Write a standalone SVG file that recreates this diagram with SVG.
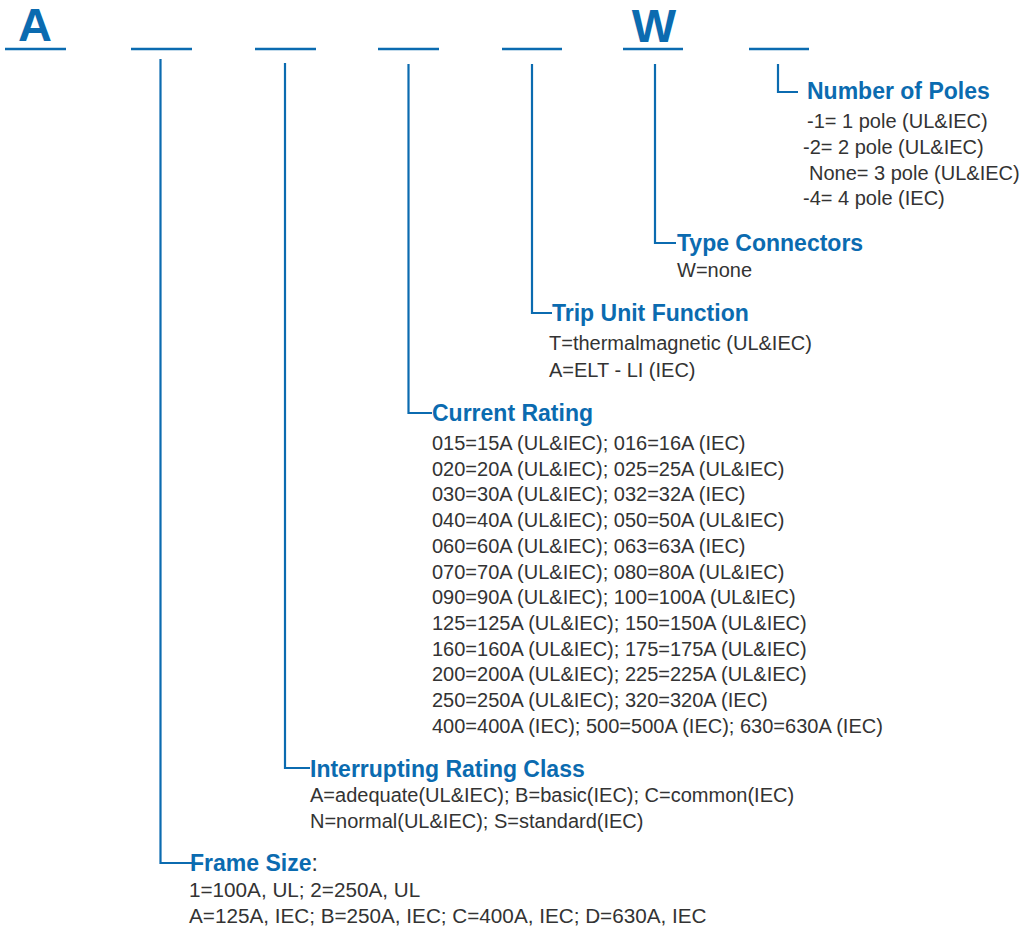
<svg xmlns="http://www.w3.org/2000/svg" width="1026" height="930" viewBox="0 0 1026 930">
<style>
.bg{fill:#ffffff}
.ul{stroke:#0b6bb0;stroke-width:2.6;fill:none}
.conn{stroke:#0b6bb0;stroke-width:2.2;fill:none}
.big{font-family:"Liberation Sans",Arial,sans-serif;font-weight:bold;font-size:47px;fill:#0b6bb0;text-anchor:middle}
.title{font-family:"Liberation Sans",Arial,sans-serif;font-weight:bold;font-size:23px;fill:#0b6bb0}
.body{font-family:"Liberation Sans",Arial,sans-serif;font-size:20px;fill:#333333}
</style>
<rect class="bg" x="0" y="0" width="1026" height="930"/>
<g id="header">
<text class="big" x="35" y="41">A</text>
<text class="big" x="654" y="42">W</text>
<line class="ul" x1="5" y1="49" x2="66" y2="49"/>
<line class="ul" x1="131" y1="49" x2="192" y2="49"/>
<line class="ul" x1="255" y1="49" x2="316" y2="49"/>
<line class="ul" x1="378" y1="49" x2="439" y2="49"/>
<line class="ul" x1="502" y1="49" x2="562" y2="49"/>
<line class="ul" x1="623" y1="49" x2="683" y2="49"/>
<line class="ul" x1="749" y1="49" x2="809" y2="49"/>
</g>
<g id="connectors">
<path class="conn" d="M160.5 59 V863 H192"/>
<path class="conn" d="M285 63 V768 H310"/>
<path class="conn" d="M408.5 64 V413 H432"/>
<path class="conn" d="M532 64 V313 H552"/>
<path class="conn" d="M655 64 V243 H676"/>
<path class="conn" d="M778 64 V92 H798"/>
</g>
<g id="number-of-poles">
<text class="title" x="807" y="99">Number of Poles</text>
<text class="body" x="807" y="128">-1= 1 pole (UL&amp;IEC)</text>
<text class="body" x="803" y="154">-2= 2 pole (UL&amp;IEC)</text>
<text class="body" x="809" y="180">None= 3 pole (UL&amp;IEC)</text>
<text class="body" x="803" y="205">-4= 4 pole (IEC)</text>
</g>
<g id="type-connectors">
<text class="title" x="677" y="250.5">Type Connectors</text>
<text class="body" x="677" y="277">W=none</text>
</g>
<g id="trip-unit-function">
<text class="title" x="552" y="320.5">Trip Unit Function</text>
<text class="body" x="549" y="350">T=thermalmagnetic (UL&amp;IEC)</text>
<text class="body" x="549" y="377">A=ELT - LI (IEC)</text>
</g>
<g id="current-rating">
<text class="title" x="432" y="420.5">Current Rating</text>
<text class="body" x="432" y="450">015=15A (UL&amp;IEC); 016=16A (IEC)</text>
<text class="body" x="432" y="475.7">020=20A (UL&amp;IEC); 025=25A (UL&amp;IEC)</text>
<text class="body" x="432" y="501.4">030=30A (UL&amp;IEC); 032=32A (IEC)</text>
<text class="body" x="432" y="527.1">040=40A (UL&amp;IEC); 050=50A (UL&amp;IEC)</text>
<text class="body" x="432" y="552.8">060=60A (UL&amp;IEC); 063=63A (IEC)</text>
<text class="body" x="432" y="578.5">070=70A (UL&amp;IEC); 080=80A (UL&amp;IEC)</text>
<text class="body" x="432" y="604.2">090=90A (UL&amp;IEC); 100=100A (UL&amp;IEC)</text>
<text class="body" x="432" y="629.9">125=125A (UL&amp;IEC); 150=150A (UL&amp;IEC)</text>
<text class="body" x="432" y="655.6">160=160A (UL&amp;IEC); 175=175A (UL&amp;IEC)</text>
<text class="body" x="432" y="681.3">200=200A (UL&amp;IEC); 225=225A (UL&amp;IEC)</text>
<text class="body" x="432" y="707">250=250A (UL&amp;IEC); 320=320A (IEC)</text>
<text class="body" x="432" y="732.7">400=400A (IEC); 500=500A (IEC); 630=630A (IEC)</text>
</g>
<g id="interrupting-rating-class">
<text class="title" x="310" y="777">Interrupting Rating Class</text>
<text class="body" x="310" y="802">A=adequate(UL&amp;IEC); B=basic(IEC); C=common(IEC)</text>
<text class="body" x="310" y="828">N=normal(UL&amp;IEC); S=standard(IEC)</text>
</g>
<g id="frame-size">
<text class="title" x="190" y="870.5">Frame Size<tspan style="fill:#333333;font-weight:normal">:</tspan></text>
<text class="body" x="189" y="896.5" style="font-size:20.7px">1=100A, UL; 2=250A, UL</text>
<text class="body" x="189" y="922.5" style="font-size:20.7px">A=125A, IEC; B=250A, IEC; C=400A, IEC; D=630A, IEC</text>
</g>
</svg>
